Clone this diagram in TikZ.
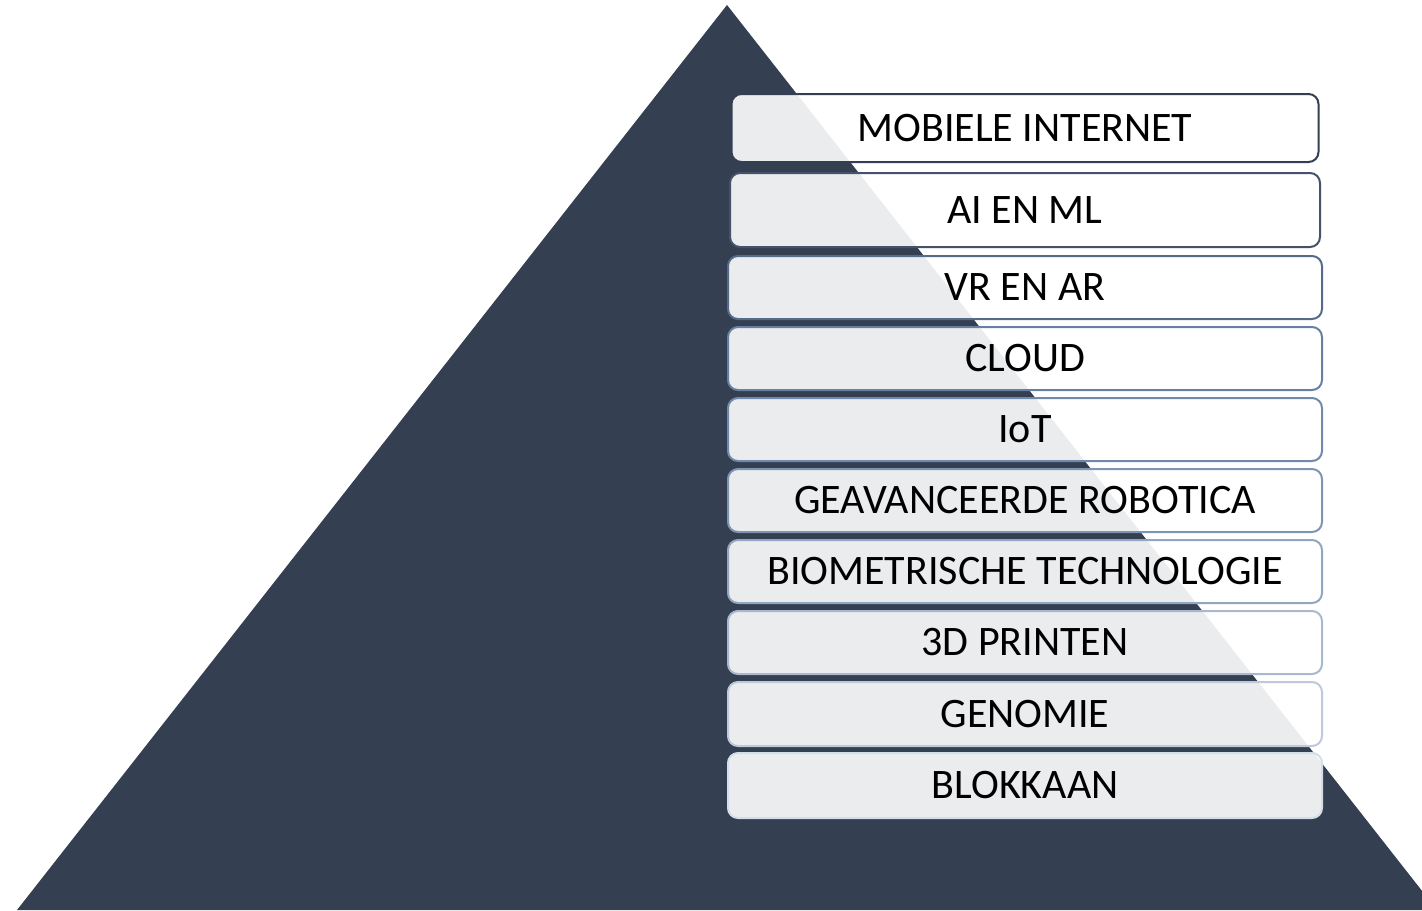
\documentclass[tikz,border=0pt]{standalone}
\usepackage{fontspec}
\setsansfont{Carlito}
\usepackage{tikz}

\definecolor{pyramid}{HTML}{343F51}
\definecolor{edgeA}{HTML}{343F51}
\definecolor{edgeB}{HTML}{44526A}
\definecolor{edgeC}{HTML}{566B89}
\definecolor{edgeD}{HTML}{6780A2}
\definecolor{edgeE}{HTML}{7189AA}
\definecolor{edgeF}{HTML}{7D94B3}
\definecolor{edgeG}{HTML}{93A6C1}
\definecolor{edgeH}{HTML}{A9B8CF}
\definecolor{edgeI}{HTML}{BECADA}
\definecolor{edgeJ}{HTML}{D5DDE8}

\begin{document}
\begin{tikzpicture}[
   x=0.5pt,y=-0.5pt,
   font=\sffamily\fontsize{21pt}{25pt}\selectfont,
   every matrix/.style={ampersand replacement=\&,row sep=3pt,inner sep=0pt,outer sep=0pt},
   tier/.style={draw=#1,line width=1pt,rounded corners=5pt,fill=white,fill opacity=0.9,text opacity=1,
      text=black,minimum width=297pt,minimum height=31.5pt,inner sep=0pt,outer sep=0pt}]
\useasboundingbox (0,0) rectangle (1422,910);
\clip (0,0) rectangle (1422,910);
% pyramid
\coordinate (apex) at (727,5);
\coordinate (baseL) at (17,910);
\coordinate (baseR) at (1437,910);
\fill[pyramid] (apex) -- (baseR) -- (baseL) -- cycle;
% list of technologies
\matrix (levels) at (1025,93) [anchor=north] {
\node[tier=edgeA,minimum width=293.5pt,minimum height=34pt] (mobile) {MOBIELE INTERNET};\\[1.5pt]
\node[tier=edgeB,minimum width=295pt,minimum height=37pt] (ai) {AI EN ML};\\[0.5pt]
\node[tier=edgeC] (vr) {VR EN AR};\\
\node[tier=edgeD] (cloud) {CLOUD};\\
\node[tier=edgeE] (iot) {IoT};\\
\node[tier=edgeF] (robot) {GEAVANCEERDE ROBOTICA};\\
\node[tier=edgeG] (bio) {BIOMETRISCHE TECHNOLOGIE};\\
\node[tier=edgeH] (print) {3D PRINTEN};\\
\node[tier=edgeI,minimum height=32pt] (genome) {GENOMIE};\\[-0.5pt]
\node[tier=edgeJ,minimum height=32.5pt] (chain) {BLOKKAAN};\\
};
\end{tikzpicture}
\end{document}
